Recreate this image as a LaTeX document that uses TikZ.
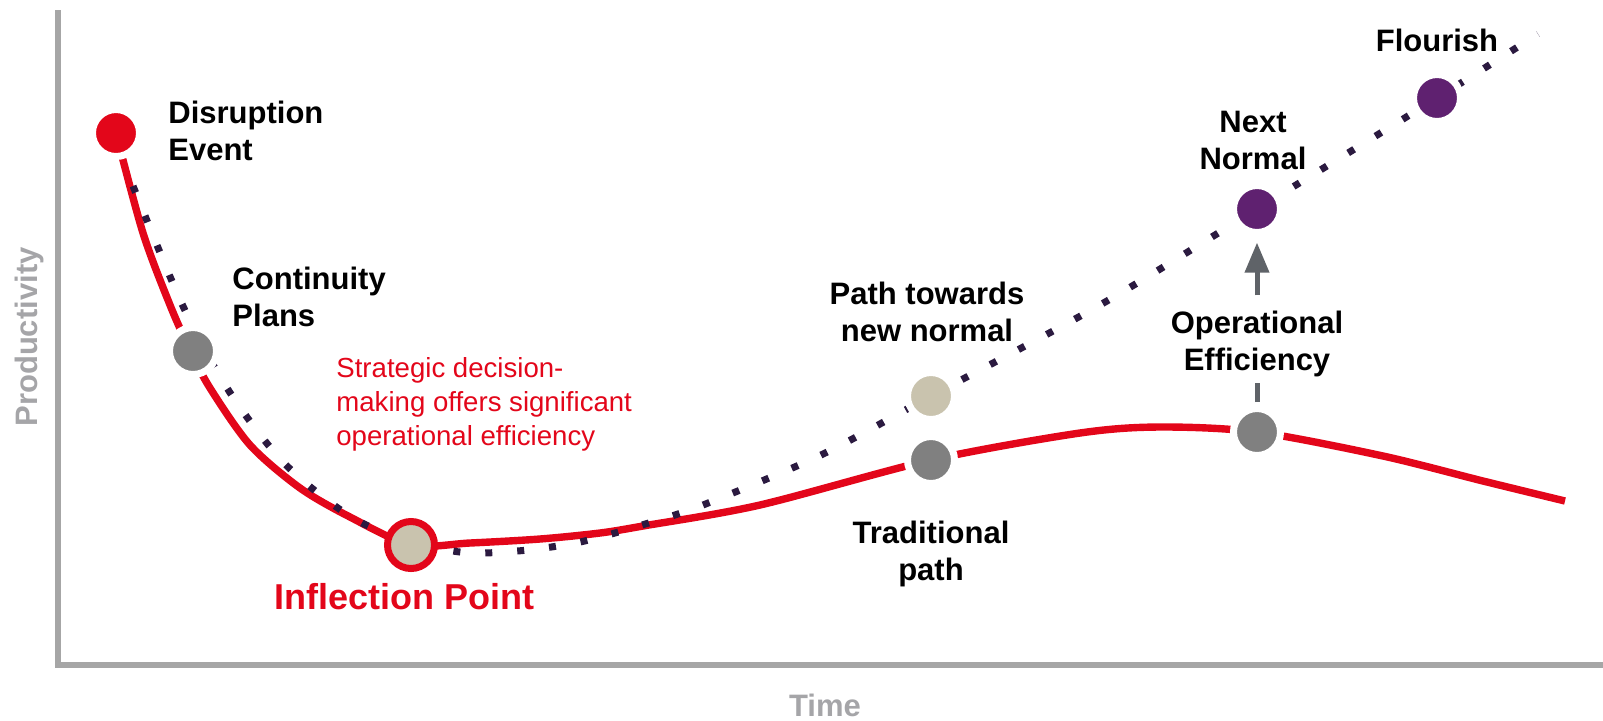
\documentclass[tikz,border=0pt]{standalone}
\usepackage{fontspec}
\setmainfont{Liberation Sans}
\usepackage{tikz}
\usetikzlibrary{arrows,positioning}

\definecolor{cred}{HTML}{E3061A}
\definecolor{cgray}{HTML}{808080}
\definecolor{cbeige}{HTML}{C9C3AE}
\definecolor{cpurple}{HTML}{5F2170}
\definecolor{cdots}{HTML}{2B1A40}
\definecolor{caxis}{HTML}{A6A6A6}
\definecolor{caxislab}{HTML}{A5A5A8}
\definecolor{carrow}{HTML}{5F6368}

\begin{document}
\begin{tikzpicture}[x=0.5pt, y=-0.5pt, inner sep=0pt, node distance=10pt]
    \tikzstyle{dot}=[circle, draw=white, line width=3.5pt, minimum size=23.5pt]
    \tikzstyle{turn}=[circle, draw=cred, fill=cbeige, line width=3.5pt, minimum size=23.5pt]
    \tikzstyle{lab}=[font=\bfseries\fontsize{15.5}{18.5}\selectfont, align=center, text=black]
    \tikzstyle{note}=[font=\fontsize{13.8}{17}\selectfont, align=left, text=cred]
    \tikzstyle{axislab}=[font=\bfseries\fontsize{15.5}{18.5}\selectfont, text=caxislab]
    \tikzstyle{axisline}=[draw=caxis, line width=3pt, line join=miter]
    \tikzstyle{oldpath}=[draw=cred, line width=3.7pt]
    \tikzstyle{newpath}=[draw=cdots, line width=3.5pt, dash pattern=on 3.5pt off 12.5pt]
    \tikzstyle{gain}=[draw=carrow, line width=2.5pt, >=triangle 45]

    \useasboundingbox (0,0) rectangle (1603,720);

    \coordinate (ytop) at (58,10);
    \coordinate (origin) at (58,665);
    \coordinate (xend) at (1603,665);
    \draw[axisline] (ytop) -- (origin) -- (xend);

    \node[axislab, rotate=90] (prod) at (29,337) {Productivity};
    \node[axislab] (time) at (825,705) {Time};

    \draw[oldpath] plot[smooth, tension=0.5] coordinates {(116,133) (143,233) (170,305) (190,350) (210,388) (250,445) (300,488) (350,517) (411,545) (470,543) (540,539) (600,533) (643,526) (760,505) (931,460) (1080,433) (1160,427) (1257,432) (1383,456) (1483,481) (1565,501)};
    \draw[newpath] plot[smooth, tension=0.5] coordinates {(133,186) (182,304) (227,388) (286,465) (362,523) (453,551) (517,551) (580,542) (642,525) (703,505) (821,455) (931,396) (1100,305) (1257,209) (1437,98) (1538,34)};

    \node[dot, fill=cred] (disr) at (116,133) {};
    \node[dot, fill=cgray] (cont) at (193,351) {};
    \node[turn] (infl) at (411,545) {};
    \node[dot, fill=cgray] (trad) at (931,460) {};
    \node[dot, fill=cbeige] (towards) at (931,396) {};
    \node[dot, fill=cgray] (opeff) at (1257,432) {};
    \node[dot, fill=cpurple] (next) at (1257,209) {};
    \node[dot, fill=cpurple] (flour) at (1437,98) {};

    \node[lab, align=left, right=12.5pt of disr, yshift=1.25pt] (disrlab) {Disruption\\Event};
    \node[lab, align=left, above right=2.5pt and 10pt of cont] (contlab) {Continuity\\Plans};
    \node[note, anchor=west] (strat) at (336,404) {Strategic decision-\\making offers significant\\operational efficiency};
    \node[lab, text=cred, font=\bfseries\fontsize{18}{21}\selectfont, below=5.5pt of infl, xshift=-3.5pt] (infllab) {Inflection Point};
    \node[lab, above=13.5pt of towards, xshift=-2pt] (towlab) {Path towards\\new normal};
    \node[lab, below=17pt of trad] (tradlab) {Traditional\\path};
    \node[lab, above=14pt of opeff] (oelab) {Operational\\Efficiency};
    \node[lab, above=6pt of next, xshift=-2pt] (nextlab) {Next\\Normal};
    \node[lab, above=9.5pt of flour] (flourlab) {Flourish};

    \draw[gain, shorten <=1.5pt, shorten >=3pt] (opeff) -- (oelab);
    \draw[gain, ->, shorten <=7.5pt, shorten >=3.5pt] (oelab) -- (next);
\end{tikzpicture}
\end{document}
